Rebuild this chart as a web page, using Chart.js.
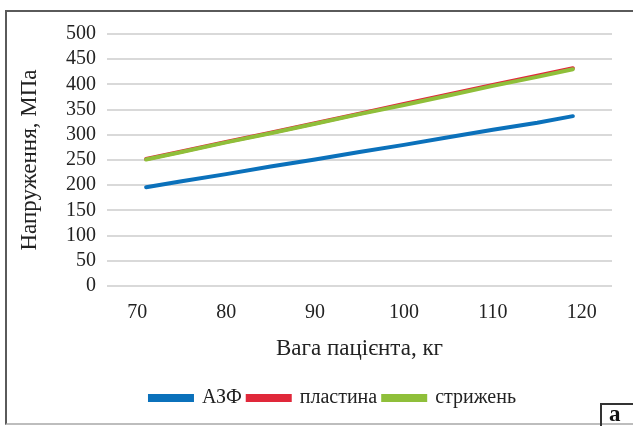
<!DOCTYPE html>
<html>
<head>
<meta charset="utf-8">
<script src="https://cdn.jsdelivr.net/npm/chart.js@4"></script>
<style>
  html, body { margin: 0; padding: 0; background: #fff; }
  #wrap { position: relative; width: 633px; height: 426px; overflow: hidden; }
  #frame { position: absolute; left: 5px; top: 10px; width: 640px; height: 415px;
           border-left: 2px solid #5a5a5a; border-top: 2px solid #5a5a5a; border-bottom: 2px solid #bdbdbd; box-sizing: border-box; }
  #tag { position: absolute; left: 600px; top: 403px; width: 50px; height: 23px;
         border-left: 2px solid #333; border-top: 2px solid #333; box-sizing: border-box;
         font: bold 23px "Liberation Serif", serif; padding-left: 7px; line-height: 17px; color: #111; }
  canvas { position: absolute; left: 0; top: 0; }
</style>
</head>
<body>
<div id="wrap">
  <div id="frame"></div>
  <canvas id="chart" width="633" height="426"></canvas>
  <div id="tag">a</div>
</div>
<script>
// weight of patient, kg
const weights = [71, 75, 80, 85, 90, 95, 100, 105, 110, 115, 119];
// stress, MPa
const azf      = [196, 208, 222, 237, 251, 266, 280, 295, 310, 324, 337];
const plastyna = [252, 267, 286, 304, 323, 342, 361, 380, 399, 417, 432];
const stryzhen = [251, 266, 285, 303, 322, 341, 359, 378, 397, 415, 430];
const xTicks = [70, 80, 90, 100, 110, 120];

const pts = (vals) => weights.map((w, i) => ({ x: w, y: vals[i] }));
const serif = '"Liberation Serif", "Times New Roman", serif';

// legend in the original sits a bit right of centre
const shiftLegend = {
  id: 'shiftLegend',
  afterLayout(chart) {
    const lg = chart.legend;
    if (!lg) return;
    lg.left += 20;
    lg.right += 20;
  }
};

const ctx = document.getElementById('chart').getContext('2d');
new Chart(ctx, {
  type: 'line',
  data: {
    datasets: [
      { label: 'АЗФ', data: pts(azf), borderColor: '#0b71bb', backgroundColor: '#0b71bb', order: 2 },
      { label: 'пластина', data: pts(plastyna), borderColor: '#e0283a', backgroundColor: '#e0283a', order: 1 },
      { label: 'стрижень', data: pts(stryzhen), borderColor: '#8fbf3a', backgroundColor: '#8fbf3a', order: 0 }
    ]
  },
  plugins: [shiftLegend],
  options: {
    responsive: false,
    animation: false,
    elements: {
      line: { borderWidth: 4, tension: 0, borderCapStyle: 'round' },
      point: { radius: 0 }
    },
    layout: { padding: { top: 34, left: 14, right: 21, bottom: 8 } },
    plugins: {
      tooltip: { enabled: false },
      legend: {
        position: 'bottom',
        labels: {
          boxWidth: 42,
          boxHeight: 4,
          padding: 6,
          color: '#222',
          font: { family: serif, size: 20 },
          sort: (a, b) => a.datasetIndex - b.datasetIndex
        }
      }
    },
    scales: {
      x: {
        type: 'linear',
        min: 66.6,
        max: 123.4,
        afterBuildTicks: (scale) => { scale.ticks = xTicks.map(v => ({ value: v })); },
        afterFit: (scale) => { scale.height = 96; },
        grid: { display: false, drawTicks: false },
        border: { display: false },
        ticks: { padding: 15, autoSkip: false, maxRotation: 0, color: '#222', font: { family: serif, size: 20 } },
        title: {
          display: true,
          text: 'Вага пацієнта, кг',
          color: '#222',
          font: { family: serif, size: 23 },
          padding: { top: 4, bottom: 19 }
        }
      },
      y: {
        min: 0,
        max: 500,
        afterFit: (scale) => { scale.width = 93; },
        ticks: { stepSize: 50, autoSkip: false, padding: 11, color: '#222', font: { family: serif, size: 20 } },
        grid: { color: '#d9d9d9', lineWidth: 2, drawTicks: false },
        border: { display: false },
        title: {
          display: true,
          text: 'Напруження, МПа',
          color: '#222',
          font: { family: serif, size: 23 },
          padding: { top: 2, bottom: 4 }
        }
      }
    }
  }
});
</script>
</body>
</html>
